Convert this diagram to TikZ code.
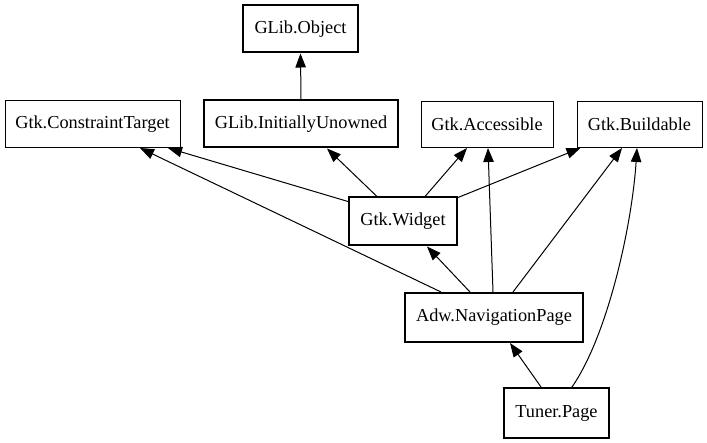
\documentclass[tikz,border=0pt]{standalone}
\usepackage{fontspec}
\setmainfont{Liberation Serif}
\usetikzlibrary{arrows.meta}
\begin{document}
\begin{tikzpicture}[x=1pt,y=-1pt,
  cls/.style={draw,line width=1pt,inner sep=0pt,font=\fontsize{18.3}{20}\selectfont},
  thickcls/.style={cls,line width=2pt},
  edge/.style={line width=1pt,-{Triangle[length=14pt,width=10.5pt]}}]
\useasboundingbox (0,0) rectangle (707,443);
\node[thickcls,minimum width=115pt,minimum height=47pt] (obj) at (300.5,29) {GLib.Object};
\node[thickcls,minimum width=194pt,minimum height=47pt] (init) at (301,124) {GLib.InitiallyUnowned};
\node[cls,minimum width=175pt,minimum height=47pt] (ct) at (92.5,124) {Gtk.ConstraintTarget};
\node[cls,minimum width=132pt,minimum height=46pt] (acc) at (487,124.5) {Gtk.Accessible};
\node[cls,minimum width=125pt,minimum height=46pt] (build) at (639.5,124.5) {Gtk.Buildable};
\node[thickcls,minimum width=108pt,minimum height=48pt] (widget) at (403,221.5) {Gtk.Widget};
\node[thickcls,minimum width=178pt,minimum height=49pt] (nav) at (494,317.5) {Adw.NavigationPage};
\node[thickcls,minimum width=105pt,minimum height=50pt] (tuner) at (556.5,413) {Tuner.Page};
\draw[edge] (init.north) -- (obj.south);
\draw[edge] ([yshift=-5pt]widget.north west) -- ([xshift=75.5pt]ct.south);
\draw[edge] ([xshift=-26pt]widget.north) -- ([xshift=26pt]init.south);
\draw[edge] ([xshift=22pt]widget.north) -- ([xshift=-20pt]acc.south);
\draw[edge] ([yshift=-1pt]widget.north east) -- ([xshift=-59pt]build.south);
\draw[edge] ([xshift=-53pt]nav.north) -- ([xshift=47.5pt]ct.south);
\draw[edge] ([xshift=-24pt]nav.north) -- ([xshift=24pt]widget.south);
\draw[edge] ([xshift=-1pt]nav.north) -- ([xshift=1pt]acc.south);
\draw[edge] ([xshift=19pt]nav.north) -- ([xshift=-17.5pt]build.south);
\draw[edge] ([xshift=-15.5pt]tuner.north) -- ([xshift=16pt]nav.south);
\draw[edge] ([xshift=15.5pt]tuner.north) .. controls (608,335) and (632,225) .. ([xshift=-2.5pt]build.south);
\end{tikzpicture}
\end{document}
